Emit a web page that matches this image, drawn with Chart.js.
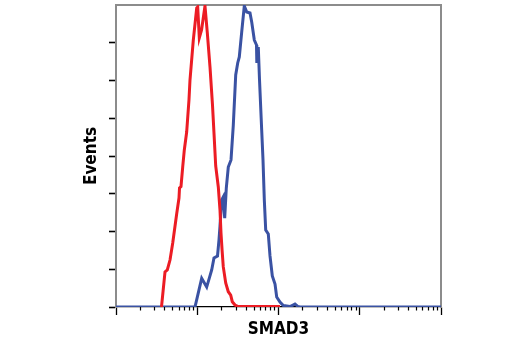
<!DOCTYPE html>
<html>
<head>
<meta charset="utf-8">
<script src="https://cdn.jsdelivr.net/npm/chart.js@4"></script>
<style>
  html, body { margin: 0; padding: 0; background: #ffffff; }
  canvas { display: block; }
</style>
</head>
<body>
<canvas id="c" width="520" height="350"></canvas>
<script>
// ---- data ----
const xTitle = "SMAD3";
const yTitle = "Events";

const redX = [3.63, 4.01, 4.28, 4.62, 4.99, 5.58, 5.96, 6.05, 6.31, 6.62,
              6.93, 7.41, 7.91, 8.14, 8.94, 9.85, 10.13, 10.6, 11.3, 12.45,
              13.3, 14.35, 15.4, 16.07, 16.87, 18.16, 19.05, 19.6, 20.2, 20.9,
              22.4, 24.1, 25.8, 27.0, 29.15, 32.0, 59.2, 104.3];
const redY = [0, 23.2, 24.5, 31.1, 42.4, 61.6, 72.2, 78.8, 79.8, 92.7,
              104, 115.9, 137.1, 150.3, 176.8, 198, 198.7, 178.2, 183.5, 199.4,
              181.5, 159, 133.8, 115.2, 93.4, 79.5, 64.2, 49, 37.8, 26.7,
              15.9, 10.1, 7.9, 3.5, 1.3, 0.3, 0.3, 0.3];

const blueX = [1, 9.38, 11.34, 13.07, 15.06, 16.07, 17.75, 18.52, 19.05, 20.0,
               20.9, 21.77, 22.78, 24.1, 26.03, 27.78, 29.74, 31.47, 32.93, 35.24,
               37.94, 40.62, 44.6, 46.8, 50.4, 53.6, 54.1, 56.4, 58.4, 62.1,
               64.45, 66.9, 69.6, 74.9, 78.6, 83.9, 90.6, 95.0, 104.3, 114.6,
               138.5, 150.8, 159.6, 173.8, 183.9, 10000];
const blueY = [0, 0, 19.0, 13.2, 24.5, 32.5, 33.8, 44.4, 53.6, 70.9,
               72.9, 58.9, 78.8, 92.7, 97.4, 120.5, 153.7, 161.6, 165.6, 182.1,
               199.4, 195.4, 194.7, 188.8, 176.8, 173.5, 161.6, 172.2, 150.3, 117.2,
               97.4, 70.9, 51, 48.3, 33.8, 20.5, 15.2, 6.6, 3.3, 1.0,
               0.3, 1.3, 2.0, 0.3, 0, 0];

const xMajorTicks = [1, 10, 100, 1000, 10000];
const xMinorTicks = [2,3,4,5,6,7,8,9, 20,30,40,50,60,70,80,90,
                     200,300,400,500,600,700,800,900, 2000,3000,4000,5000,6000,7000,8000,9000];
const yTicks = [0, 25, 50, 75, 100, 125, 150, 175];
const yMax = 200;

// ---- styles ----
const RED = '#ec1c24';
const BLUE = '#3a52a3';
const FRAME = '#8c8c8c';
const FONT = "'Liberation Sans Narrow', 'Arial Narrow', 'DejaVu Sans Condensed', Arial, sans-serif";

const toPts = (xs, ys) => xs.map((x, i) => ({ x: x, y: ys[i] }));
const setTicks = (vals) => (scale) => { scale.ticks = vals.map(v => ({ value: v })); };

new Chart(document.getElementById('c'), {
  type: 'line',
  data: {
    datasets: [
      { label: 'red', data: toPts(redX, redY), borderColor: RED, borderWidth: 3,
        pointRadius: 0, tension: 0, fill: false },
      { label: 'blue', data: toPts(blueX, blueY), borderColor: BLUE, borderWidth: 3,
        pointRadius: 0, tension: 0, fill: false }
    ]
  },
  options: {
    responsive: false,
    devicePixelRatio: 1,
    animation: false,
    layout: { padding: { left: 81.8, right: 79, top: 5, bottom: 9.8 } },
    plugins: { legend: { display: false }, tooltip: { enabled: false } },
    scales: {
      x: {
        type: 'logarithmic', position: 'bottom', min: 1, max: 10000,
        afterBuildTicks: setTicks(xMajorTicks),
        ticks: { display: false, autoSkip: false },
        grid: { drawOnChartArea: false, drawTicks: true, tickLength: 8, tickColor: '#000', tickWidth: 1.3 },
        border: { display: true, color: '#000', width: 1.3 },
        title: { display: true, text: xTitle, color: '#000',
                 font: { family: FONT, size: 17, weight: 'bold' },
                 padding: { top: 4.8, bottom: 0 } }
      },
      xMinor: {
        type: 'logarithmic', position: { y: 0 }, axis: 'x', min: 1, max: 10000,
        afterBuildTicks: setTicks(xMinorTicks),
        ticks: { display: false, autoSkip: false },
        grid: { drawOnChartArea: false, drawTicks: true, tickLength: 3.5, tickColor: '#000', tickWidth: 1.2 },
        border: { display: false }
      },
      xTop: {
        type: 'logarithmic', position: 'top', axis: 'x', min: 1, max: 10000,
        ticks: { display: false },
        grid: { display: false, drawTicks: false },
        border: { display: true, color: FRAME, width: 2 }
      },
      y: {
        type: 'linear', position: 'left', min: 0, max: yMax,
        afterBuildTicks: setTicks(yTicks),
        ticks: { display: false },
        grid: { drawOnChartArea: false, drawTicks: true, tickLength: 7, tickColor: '#000', tickWidth: 1.6 },
        border: { display: true, color: FRAME, width: 2 },
        title: { display: true, text: yTitle, color: '#000',
                 font: { family: FONT, size: 17, weight: 'bold' },
                 padding: { top: 0, bottom: 6.8 } }
      },
      yRight: {
        type: 'linear', position: 'right', axis: 'y', min: 0, max: yMax,
        ticks: { display: false },
        grid: { display: false, drawTicks: false },
        border: { display: true, color: FRAME, width: 2 }
      }
    }
  }
});
</script>
</body>
</html>
